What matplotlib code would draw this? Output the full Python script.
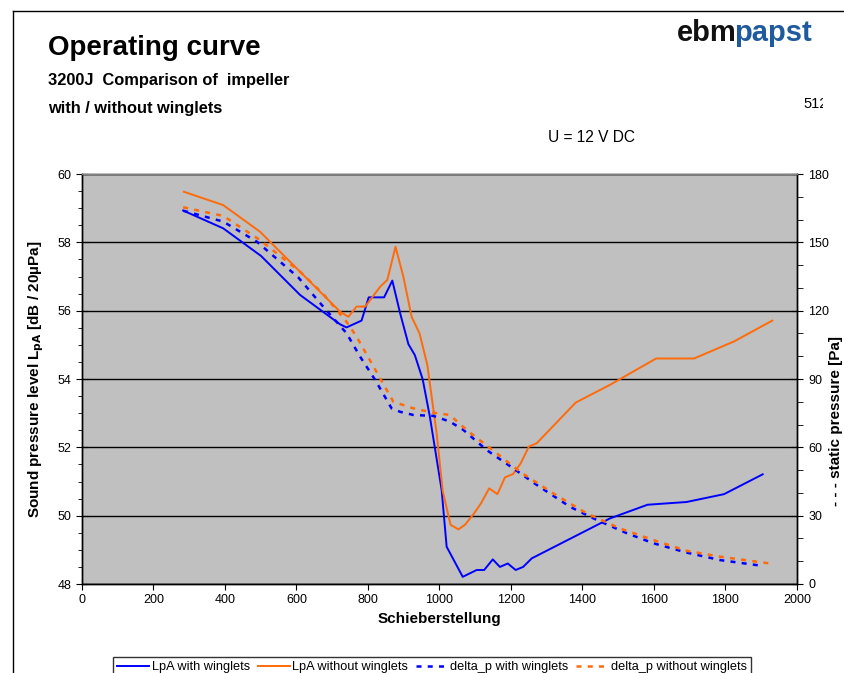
import matplotlib
matplotlib.use("Agg")
import matplotlib.pyplot as plt
from matplotlib.lines import Line2D
from matplotlib.ticker import MultipleLocator
from matplotlib.transforms import Bbox

plt.rcParams['font.family'] = ['Liberation Sans', 'DejaVu Sans']

# LpA with winglets
x_lpa_w = [283, 395, 501, 610, 722, 740, 782, 802, 845, 868, 890, 913, 931, 953, 973, 1006, 1020,
           1065, 1104, 1125, 1149, 1169, 1191, 1213, 1234, 1258, 1477, 1582, 1691, 1796, 1904]
y_lpa_w = [58.93, 58.41, 57.6, 56.46, 55.6, 55.51, 55.71, 56.39, 56.39, 56.88, 55.92, 55.02, 54.7, 53.99, 52.9, 50.75, 49.09,
           48.21, 48.41, 48.41, 48.72, 48.5, 48.6, 48.41, 48.5, 48.75, 49.92, 50.32, 50.4, 50.63, 51.21]

# LpA without winglets
x_lpa_wo = [285, 395, 498, 610, 722, 745, 768, 792, 806, 834, 854, 877, 899, 922, 944, 966, 992, 1009,
            1031, 1053, 1071, 1097, 1116, 1139, 1162, 1183, 1206, 1227, 1250, 1272, 1381, 1477, 1606, 1712, 1824, 1931]
y_lpa_wo = [59.48, 59.09, 58.31, 57.14, 55.97, 55.82, 56.12, 56.12, 56.31, 56.7, 56.9, 57.87, 56.99, 55.82, 55.34, 54.41, 52.41, 50.72,
            49.73, 49.6, 49.73, 50.07, 50.36, 50.8, 50.63, 51.12, 51.22, 51.53, 52.02, 52.12, 53.31, 53.83, 54.6, 54.6, 55.1, 55.71]

# delta_p with winglets [Pa]
x_dp_w = [283, 395, 489, 605, 675, 740, 778, 820, 866, 890, 927, 983, 1029, 1067, 1132, 1206, 1272,
          1365, 1440, 1524, 1598, 1691, 1785, 1906]
y_dp_w = [163.9, 159.1, 150.3, 134.6, 121.7, 110.1, 99.8, 89.6, 77.1, 75.6, 74.2, 73.8, 71.3, 67.6, 58.8, 50.8, 43.5,
          33.9, 28.1, 22.3, 17.9, 13.8, 10.5, 7.9]

# delta_p without winglets [Pa]
x_dp_wo = [283, 395, 498, 610, 675, 740, 768, 834, 871, 927, 983, 1029, 1076, 1160, 1225, 1318, 1412,
           1505, 1598, 1691, 1785, 1934]
y_dp_wo = [165.4, 161.6, 151.0, 137.1, 127.3, 115.1, 108.6, 90.3, 80.0, 77.1, 75.2, 74.2, 67.6, 57.4, 49.3, 39.8, 31.0,
           24.4, 19.3, 14.6, 12.0, 8.8]

x_ticks = list(range(0, 2001, 200))
y_ticks = [48, 50, 52, 54, 56, 58, 60]
p_ticks = [0, 30, 60, 90, 120, 150, 180]

BLUE = '#0000ff'
ORANGE = '#ff6a0a'

fig = plt.figure(figsize=(8.45, 6.73), dpi=100)
W, H = 845, 673
ax = fig.add_axes([82 / W, 1 - 584 / H, (797 - 82) / W, (584 - 174) / H])
ax.set_facecolor('#c0c0c0')
ax2 = ax.twinx()

ax.plot(x_lpa_w, y_lpa_w, color=BLUE, lw=1.4, label='LpA with winglets')
ax.plot(x_lpa_wo, y_lpa_wo, color=ORANGE, lw=1.4, label='LpA without winglets')
ax2.plot(x_dp_w, y_dp_w, color=BLUE, lw=1.8, ls=(0, (2, 2.5)), label='delta_p with winglets')
ax2.plot(x_dp_wo, y_dp_wo, color=ORANGE, lw=1.8, ls=(0, (2, 2.5)), label='delta_p without winglets')

ax.set_xlim(0, 2000)
ax.set_ylim(48, 60)
ax2.set_ylim(0, 180)
ax.set_xticks(x_ticks)
ax.set_yticks(y_ticks)
ax2.set_yticks(p_ticks)
ax.yaxis.set_minor_locator(MultipleLocator(0.5))
ax2.yaxis.set_minor_locator(MultipleLocator(10))
ax.grid(axis='y', which='major', color='black', lw=1)
ax.set_axisbelow(True)

ax.tick_params(axis='y', which='major', direction='inout', length=8, labelsize=9)
ax.tick_params(axis='y', which='minor', direction='out', length=3)
ax2.tick_params(axis='y', which='major', direction='inout', length=9, labelsize=9)
ax2.tick_params(axis='y', which='minor', direction='out', length=4)
ax.tick_params(axis='x', direction='out', length=4, labelsize=9)

for a in (ax, ax2):
    for s in a.spines.values():
        s.set_color('black')
        s.set_linewidth(1)
ax2.spines['top'].set_color('#808080')

ax.set_xlabel('Schieberstellung', fontsize=11, fontweight='bold', labelpad=4)
ax.set_ylabel('Sound pressure level L$_{\\mathbf{pA}}$ [dB / 20µPa]', fontsize=11, fontweight='bold', labelpad=8)
fig.text(836 / W, 1 - 421 / H, '- - - static pressure [Pa]', rotation=90, fontsize=11,
         fontweight='bold', ha='center', va='center')

fig.text(48 / W, 1 - 48 / H, 'Operating curve', fontsize=20, fontweight='bold', va='center')
fig.text(48 / W, 1 - 80 / H, '3200J  Comparison of  impeller', fontsize=11.8, fontweight='bold', va='center')
fig.text(48 / W, 1 - 108 / H, 'with / without winglets', fontsize=11.8, fontweight='bold', va='center')
t512 = fig.text(803 / W, 1 - 104 / H, '512', fontsize=10.5, va='center')
t512.set_clip_box(Bbox.from_extents(0, 0, 823, H))
t512.set_clip_on(True)
fig.text(548 / W, 1 - 138 / H, 'U = 12 V DC', fontsize=11.2, va='center')

t_ebm = fig.text(677 / W, 1 - 33 / H, 'ebm', fontsize=21, fontweight='bold', color='#111111', va='center')
fig.canvas.draw()
ext = t_ebm.get_window_extent()
fig.text((ext.x1 - 3) / W, 1 - 33 / H, 'papst', fontsize=21, fontweight='bold', color='#1f5a9e', va='center')

# page frame
fig.add_artist(Line2D([13 / W, 13 / W], [0, 1 - 11 / H], color='black', lw=1, transform=fig.transFigure))
fig.add_artist(Line2D([13 / W, 1], [1 - 11 / H, 1 - 11 / H], color='black', lw=1, transform=fig.transFigure))

h1, l1 = ax.get_legend_handles_labels()
h2, l2 = ax2.get_legend_handles_labels()
leg = fig.legend(h1 + h2, l1 + l2, loc='upper left', bbox_to_anchor=(113 / W, 1 - 657 / H),
                 ncol=4, fontsize=9.2, frameon=True, fancybox=False, borderpad=0.35, borderaxespad=0,
                 handlelength=2.5, handletextpad=0.2, columnspacing=0.6)
leg.get_frame().set_edgecolor('black')
leg.get_frame().set_linewidth(1)

fig.savefig('out.png', dpi=100)
